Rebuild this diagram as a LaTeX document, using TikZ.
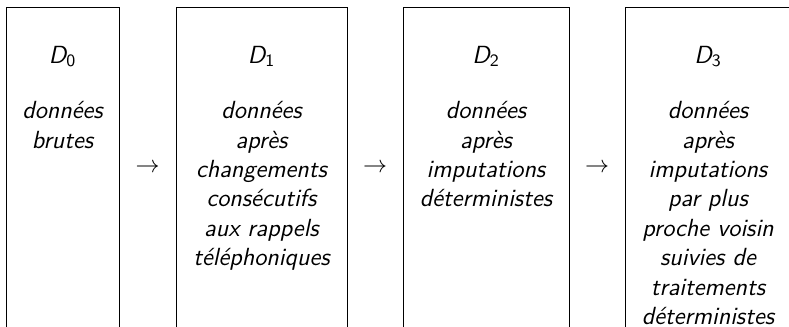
\documentclass[tikz,border=0pt]{standalone}
\begin{document}
\begin{tikzpicture}[x=0.5pt,y=-0.5pt,
  frame/.style={line width=0.4pt, draw=black},
  txt/.style={font=\fontsize{12.4}{14.7}\selectfont\sffamily\itshape, inner sep=0pt},
  desc/.style={txt, align=center, anchor=north},
  flow/.style={font=\fontsize{12.4}{14.7}\selectfont, inner sep=0pt}]
\useasboundingbox (0,0) rectangle (789,327);

% open-bottomed frames of the four stages
\draw[frame] (6,327) |- (119,7) -- (119,327);
\draw[frame] (176,327) |- (347,7) -- (347,327);
\draw[frame] (403,327) |- (569,7) -- (569,327);
\draw[frame] (625,327) |- (791,7) -- (791,327);

% stage names
\node[txt, anchor=base] (d0) at (62.5,63) {D\textsubscript{\upshape 0}};
\node[txt, anchor=base] (d1) at (261.5,63) {D\textsubscript{\upshape 1}};
\node[txt, anchor=base] (d2) at (486,63) {D\textsubscript{\upshape 2}};
\node[txt, anchor=base] (d3) at (708,63) {D\textsubscript{\upshape 3}};

% stage descriptions, first baselines level with each other
\node[desc] (t0) at (62.5,101) {données\\brutes};
\node[desc] (t1) at (261.5,101) {données\\après\\changements\\consécutifs\\aux rappels\\téléphoniques};
\node[desc] (t2) at (486,101) {données\\après\\imputations\\déterministes};
\node[desc] (t3) at (708,101) {données\\après\\imputations\\par plus\\proche voisin\\suivies de\\traitements\\déterministes};

% arrows between stages
\node[flow] (a1) at (147.5,168) {$\rightarrow$};
\node[flow] (a2) at (375,168) {$\rightarrow$};
\node[flow] (a3) at (597,168) {$\rightarrow$};
\end{tikzpicture}
\end{document}
